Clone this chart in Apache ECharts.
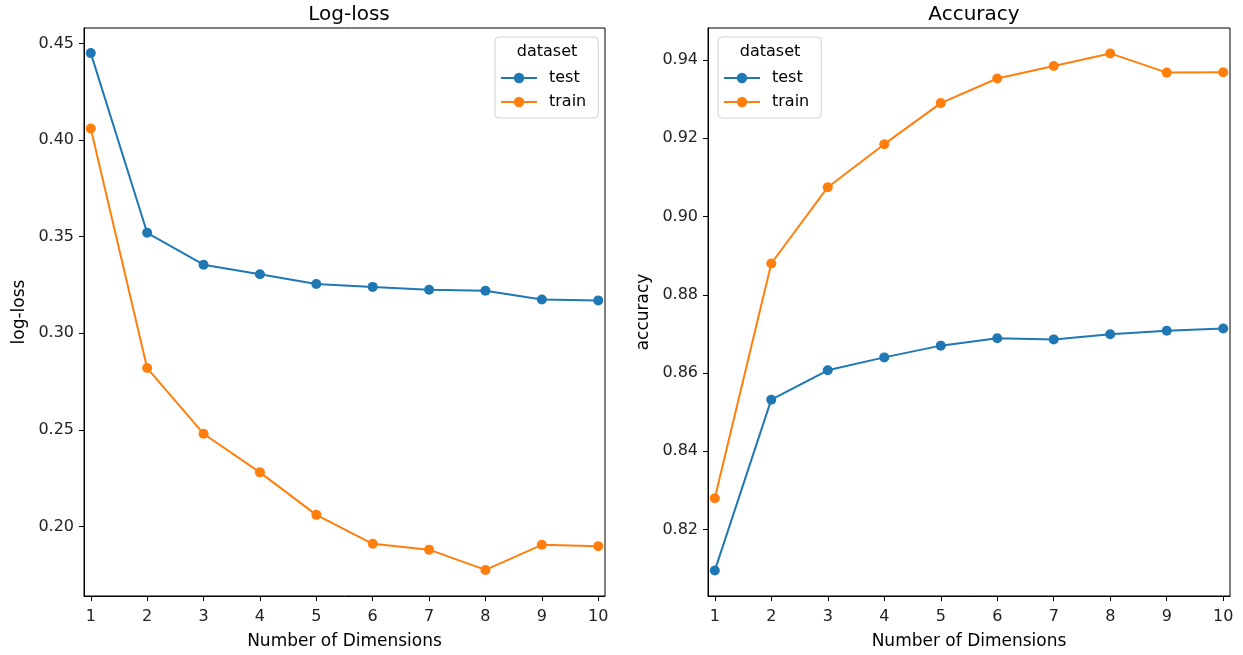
<!DOCTYPE html>
<html>
<head>
<meta charset="utf-8">
<script src="https://cdn.jsdelivr.net/npm/echarts@6/dist/echarts.min.js"></script>
<style>
  html, body { margin: 0; padding: 0; background: #fff; }
  #chart { width: 1243px; height: 655px; }
</style>
</head>
<body>
<div id="chart"></div>
<script>
// x values: number of dimensions
const dims = [1, 2, 3, 4, 5, 6, 7, 8, 9, 10];

// log-loss per dataset
const lossTest = [0.445, 0.352, 0.3355, 0.3305, 0.3255, 0.324, 0.3225, 0.322, 0.3175, 0.317];
const lossTrain = [0.406, 0.282, 0.248, 0.228, 0.206, 0.191, 0.188, 0.1775, 0.1905, 0.1898];

// accuracy per dataset
const accTest = [0.8095, 0.8532, 0.8607, 0.864, 0.867, 0.8689, 0.8686, 0.8699, 0.8708, 0.8714];
const accTrain = [0.828, 0.888, 0.9075, 0.9185, 0.929, 0.9353, 0.9385, 0.9417, 0.9368, 0.9369];

// tick labels
const lossTicks = [0.20, 0.25, 0.30, 0.35, 0.40, 0.45];
const accTicks = [0.82, 0.84, 0.86, 0.88, 0.90, 0.92, 0.94];

const blue = "#1f77b4";
const orange = "#ff7f0e";
const font = "DejaVu Sans";

const pairs = (ys) => dims.map((d, i) => [d, ys[i]]);

const chart = echarts.init(document.getElementById("chart"));

//公共的x轴
function xAxis(idx) {
  return {
    type: "value",
    gridIndex: idx,
    min: 0.88,
    max: 10.12,
    name: "Number of Dimensions",
    nameLocation: "middle",
    nameGap: 37,
    nameTextStyle: { fontFamily: font, fontSize: 17, color: "#000" },
    axisLine: { show: true, lineStyle: { color: "#000", width: 1 } },
    axisTick: { show: true, length: 5, customValues: dims, lineStyle: { color: "#000" } },
    axisLabel: {
      customValues: dims,
      fontFamily: font, fontSize: 16, color: "#222", margin: 13,
    },
    splitLine: { show: false },
  };
}

function yAxis(idx, name, min, max, ticks, digits) {
  return {
    type: "value",
    gridIndex: idx,
    min: min,
    max: max,
    name: name,
    nameLocation: "middle",
    nameGap: 56,
    nameTextStyle: { fontFamily: font, fontSize: 17, color: "#000" },
    axisLine: { show: true, lineStyle: { color: "#000", width: 1 } },
    axisTick: { show: true, length: 5, customValues: ticks, lineStyle: { color: "#000" } },
    axisLabel: {
      customValues: ticks,
      formatter: (v) => v.toFixed(digits),
      fontFamily: font, fontSize: 16, color: "#222", margin: 10,
    },
    splitLine: { show: false },
  };
}

function lineSeries(name, color, data, idx) {
  return {
    name: name,
    type: "line",
    xAxisIndex: idx,
    yAxisIndex: idx,
    data: data,
    symbol: "circle",
    symbolSize: 10,
    color: color,
    lineStyle: { width: 2 },
    itemStyle: { color: color },
    emphasis: { disabled: true },
    animation: false,
  };
}

function legend(left) {
  return {
    orient: "vertical",
    left: left,
    top: 37,
    data: ["test", "train"],
    itemWidth: 36,
    itemHeight: 13,
    itemGap: 8,
    padding: [33, 12, 8, 5],
    borderColor: "#d0d0d0",
    borderWidth: 1,
    borderRadius: 4,
    textStyle: { fontFamily: font, fontSize: 16, lineHeight: 16, color: "#000", padding: [0, 0, 0, 7] },
    selectedMode: false,
  };
}

chart.setOption({
  backgroundColor: "#fff",
  animation: false,
  title: [
    { text: "Log-loss", left: 344, top: 0, textAlign: "center",
      textStyle: { fontFamily: font, fontSize: 20, fontWeight: "normal", color: "#000" } },
    { text: "Accuracy", left: 969, top: 0, textAlign: "center",
      textStyle: { fontFamily: font, fontSize: 20, fontWeight: "normal", color: "#000" } },
  ],
  grid: [
    { left: 84, top: 28, width: 521, height: 570, show: true, borderColor: "#000", borderWidth: 1 },
    { left: 708, top: 28, width: 522, height: 570, show: true, borderColor: "#000", borderWidth: 1 },
  ],
  xAxis: [xAxis(0), xAxis(1)],
  yAxis: [
    yAxis(0, "log-loss", 0.164, 0.458, lossTicks, 2),
    yAxis(1, "accuracy", 0.803, 0.9482, accTicks, 2),
  ],
  legend: [legend(495), legend(718)],
  graphic: [
    { type: "text", x: 547, y: 52,
      style: { text: "dataset", font: "16px DejaVu Sans", fill: "#000", align: "center", verticalAlign: "middle" } },
    { type: "text", x: 770, y: 52,
      style: { text: "dataset", font: "16px DejaVu Sans", fill: "#000", align: "center", verticalAlign: "middle" } },
  ],
  series: [
    lineSeries("test", blue, pairs(lossTest), 0),
    lineSeries("train", orange, pairs(lossTrain), 0),
    lineSeries("test", blue, pairs(accTest), 1),
    lineSeries("train", orange, pairs(accTrain), 1),
  ],
});
</script>
</body>
</html>
